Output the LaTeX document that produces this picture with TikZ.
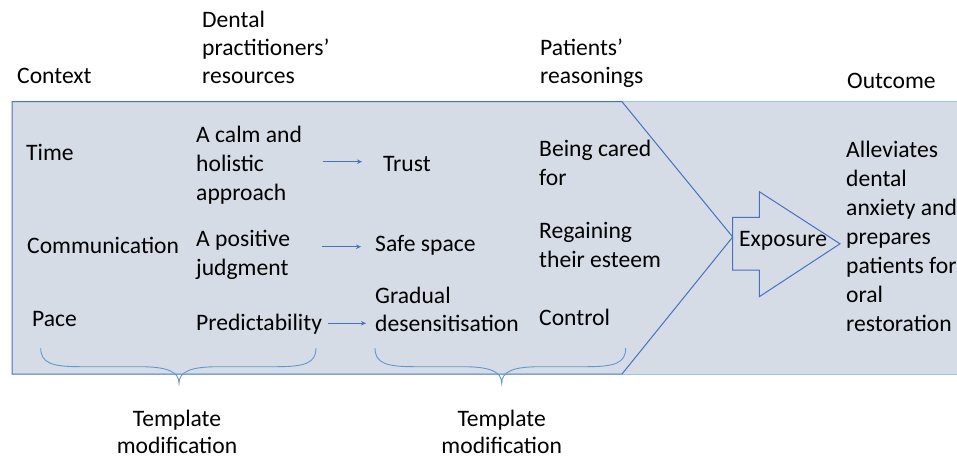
\documentclass[tikz,border=0pt]{standalone}
\usepackage{fontspec}
\setmainfont{Carlito}
\usetikzlibrary{arrows.meta}
\definecolor{boxfill}{HTML}{D6DCE5}
\definecolor{darkedge}{HTML}{4472C4}
\definecolor{lightedge}{HTML}{9DC3E6}
\definecolor{bracecol}{HTML}{5B9BD5}
\begin{document}
\begin{tikzpicture}[x=1pt,y=-1pt,
  txt/.style={inner sep=0pt, anchor=base west, align=left, font=\fontsize{23.6}{28.6}\selectfont, text=black},
  hdr/.style={txt, font=\fontsize{23.6}{27.5}\selectfont},
  outc/.style={txt, font=\fontsize{23.6}{29.05}\selectfont},
  ctr/.style={txt, anchor=base, align=center, font=\fontsize{23.6}{26.7}\selectfont},
  flowarrow/.style={draw=darkedge, line width=0.8pt, -{Stealth[length=5pt,width=4.5pt]}},
  bracepath/.style={draw=bracecol, line width=0.9pt},
]
\useasboundingbox (0,0) rectangle (957,460);
% right panel
\path[fill=boxfill, draw=lightedge, line width=1pt] (622,101.7) -- (962,101.7) -- (962,374) -- (622,374) -- cycle;
% chevron panel
\path[fill=boxfill, draw=darkedge, line width=1pt] (12,101.7) -- (622,101.7) -- (732.7,237) -- (622,374) -- (12,374) -- cycle;
% exposure block arrow
\path[fill=boxfill, draw=darkedge, line width=1pt] (732.7,217.3) -- (759.3,217.3) -- (759.3,191.7) -- (840,243.8) -- (759.3,296.7) -- (759.3,270) -- (732.7,270) -- cycle;

% headers (base = last line)
\node[txt] (hctx) at (17,83) {Context};
\node[hdr] (hres) at (202,83) {Dental\\practitioners’\\resources};
\node[hdr] (hpat) at (540,83) {Patients’\\reasonings};
\node[txt] (hout) at (847,88) {Outcome};

% row 1
\node[txt] (time) at (26,160.7) {Time};
\node[txt] (calm) at (196,200) {A calm and\\holistic\\approach};
\node[txt] (trust) at (383,171) {Trust};
\node[txt] (cared) at (539,185) {Being cared\\for};
% row 2
\node[txt] (comm) at (27,253) {Communication};
\node[txt] (posj) at (196,275) {A positive\\judgment};
\node[txt] (safe) at (375,251.7) {Safe space};
\node[txt] (esteem) at (539,267) {Regaining\\their esteem};
% row 3
\node[txt] (pace) at (32,326) {Pace};
\node[txt] (pred) at (196,330) {Predictability};
\node[txt] (grad) at (375,331.7) {Gradual\\desensitisation};
\node[txt] (ctrl) at (539,325) {Control};

% exposure and outcome
\node[txt] (expo) at (739,246.7) {Exposure};
\node[outc] (alle) at (846,331.7) {Alleviates\\dental\\anxiety and\\prepares\\patients for\\oral\\restoration};

% arrows
\coordinate (a1s) at (323,161.7); \coordinate (a1e) at (362,161.7);
\coordinate (a2s) at (322,246.7); \coordinate (a2e) at (361,246.7);
\coordinate (a3s) at (328,323.3); \coordinate (a3e) at (366,323.3);
\draw[flowarrow] (a1s) -- (a1e);
\draw[flowarrow] (a2s) -- (a2e);
\draw[flowarrow] (a3s) -- (a3e);

% braces
\draw[bracepath] (40.7,348) .. controls (40.7,363) and (52,366.7) .. (80,366.7) -- (140,366.7)
  .. controls (168,366.7) and (179,372) .. (179,383.3)
  .. controls (179,372) and (190,366.7) .. (218,366.7) -- (277,366.7)
  .. controls (305,366.7) and (316,363) .. (316,348);
\draw[bracepath] (375,348) .. controls (375,363) and (386,366.7) .. (414,366.7) -- (463,366.7)
  .. controls (491,366.7) and (501.7,372) .. (501.7,383.3)
  .. controls (501.7,372) and (512,366.7) .. (540,366.7) -- (587,366.7)
  .. controls (615,366.7) and (625.7,363) .. (625.7,348);

% bottom labels
\node[ctr] (tm1) at (177,453.3) {Template\\modification};
\node[ctr] (tm2) at (501.7,453.3) {Template\\modification};
\end{tikzpicture}
\end{document}
